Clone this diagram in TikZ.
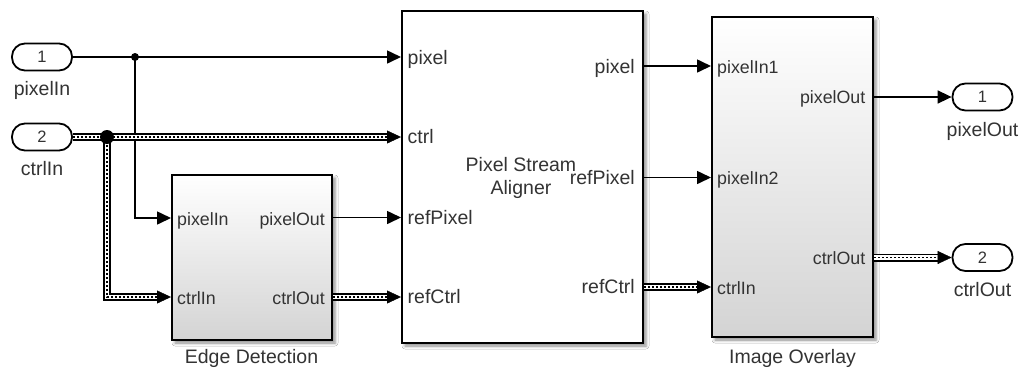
\documentclass[tikz,border=0pt]{standalone}
\usepackage{fontspec}
\setmainfont{Liberation Sans}
\usetikzlibrary{arrows.meta,decorations.markings,shadows.blur}
\newcommand{\lblfont}{\fontsize{19.5}{22.5}\selectfont}
\newcommand{\prtfont}{\fontsize{17.8}{20}\selectfont}
\newcommand{\numfont}{\fontsize{16.5}{18}\selectfont}
\definecolor{txt}{HTML}{333333}
\tikzset{
  blk/.style={draw=black, line width=2.2pt, rectangle, inner sep=0pt,
    blur shadow={shadow xshift=3pt, shadow yshift=-3pt, shadow blur radius=3pt, shadow opacity=45}},
  grad/.style={top color=white, middle color=black!4, bottom color=black!17},
  pill/.style={draw=black, line width=1.8pt, rounded corners=13pt, minimum width=60pt,
    minimum height=27pt, inner sep=0pt, font=\numfont, text=txt},
  sig/.style={line width=1.6pt, -{Triangle[length=14pt,width=13pt]}},
  bus/.style={line join=miter,
    preaction={draw=black, line width=8pt, shorten >=10pt},
    preaction={draw=white, line width=4.6pt, shorten >=10pt},
    preaction={draw=black, line width=1.6pt, dash pattern=on 1.6pt off 2.4pt, shorten >=11pt},
    postaction={decorate, decoration={markings,
      mark=at position 1 with {\arrow{Triangle[length=14pt,width=13pt]}}}}},
  pl/.style={font=\prtfont, text=txt, inner sep=0pt},
  bl/.style={font=\lblfont, text=txt, inner sep=0pt},
  dot/.style={circle, fill=black, inner sep=0pt},
}
\begin{document}
\begin{tikzpicture}[x=1pt,y=-1pt]
\fill[white] (0,0) rectangle (1021,368);
\useasboundingbox (0,0) rectangle (1021,368);

% blocks
\node[blk, grad, minimum width=160pt, minimum height=165pt] (ed) at (252,257.5) {};
\node[blk, fill=white, minimum width=241pt, minimum height=332pt] (al) at (522.5,177) {};
\node[blk, grad, minimum width=161pt, minimum height=320pt] (ov) at (792.5,177) {};

% in/out ports
\node[pill] (in1) at (42,57) {1};
\node[pill] (in2) at (42,137) {2};
\node[pill] (out1) at (982.5,97) {1};
\node[pill] (out2) at (982.5,257.5) {2};

\node[bl, anchor=base] (in1l) at (42,95) {pixelIn};
\node[bl, anchor=base] (in2l) at (42,175) {ctrlIn};
\node[bl, anchor=base] (out1l) at (982.5,136.5) {pixelOut};
\node[bl, anchor=base] (out2l) at (982.5,296.5) {ctrlOut};

% block names
\node[bl, anchor=base] (edn) at (251.5,363.5) {Edge Detection};
\node[bl, anchor=base] (ovn) at (792.5,363.5) {Image Overlay};
\node[bl, align=center, anchor=north] (aln) at (521,157.3) {Pixel Stream\\Aligner};

% port coordinates
\coordinate (ed-i1) at (171,218);
\coordinate (ed-i2) at (171,297);
\coordinate (ed-o1) at (333,217.5);
\coordinate (ed-o2) at (333,297);
\coordinate (al-i1) at (401,57);
\coordinate (al-i2) at (401,137);
\coordinate (al-i3) at (401,217.5);
\coordinate (al-i4) at (401,297);
\coordinate (al-o1) at (644,66);
\coordinate (al-o2) at (644,177.5);
\coordinate (al-o3) at (644,287);
\coordinate (ov-i1) at (711,66);
\coordinate (ov-i2) at (711,177.5);
\coordinate (ov-i3) at (711,287);
\coordinate (ov-o1) at (874,97);
\coordinate (ov-o2) at (874,257.5);

% port labels
\node[pl, anchor=base west] (edl1) at (177,225) {pixelIn};
\node[pl, anchor=base west] (edl2) at (177,304) {ctrlIn};
\node[pl, anchor=base east] (edl3) at (325,225) {pixelOut};
\node[pl, anchor=base east] (edl4) at (325,304) {ctrlOut};

\node[bl, anchor=base west] (all1) at (407.5,64) {pixel};
\node[bl, anchor=base west] (all2) at (407.5,143.5) {ctrl};
\node[bl, anchor=base west] (all3) at (407.5,224) {refPixel};
\node[bl, anchor=base west] (all4) at (407.5,303.5) {refCtrl};
\node[bl, anchor=base east] (all5) at (635,73) {pixel};
\node[bl, anchor=base east] (all6) at (635,184.3) {refPixel};
\node[bl, anchor=base east] (all7) at (635,293.5) {refCtrl};

\node[pl, anchor=base west] (ovl1) at (717,73) {pixelIn1};
\node[pl, anchor=base west] (ovl2) at (717,184.5) {pixelIn2};
\node[pl, anchor=base west] (ovl3) at (717,294) {ctrlIn};
\node[pl, anchor=base east] (ovl4) at (865.5,103.5) {pixelOut};
\node[pl, anchor=base east] (ovl5) at (865.5,264) {ctrlOut};

% junctions
\coordinate (j1) at (135,57);
\coordinate (j2) at (107,137);

% signal connectors
\draw[sig] (in1.east) -- (al-i1);
\draw[sig] (j1) |- (ed-i1);
\draw[sig] (ed-o1) -- (al-i3);
\draw[sig] (al-o1) -- (ov-i1);
\draw[sig] (al-o2) -- (ov-i2);
\draw[sig] (ov-o1) -- (out1.west);

% bus connectors
\path[bus] (in2.east) -- (al-i2);
\path[bus] (j2) |- (ed-i2);
\path[bus] (ed-o2) -- (al-i4);
\path[bus] (al-o3) -- (ov-i3);
\path[bus] (ov-o2) -- (out2.west);

\node[dot, minimum size=8pt] (d1) at (j1) {};
\node[dot, minimum size=14pt] (d2) at (j2) {};
\end{tikzpicture}
\end{document}
